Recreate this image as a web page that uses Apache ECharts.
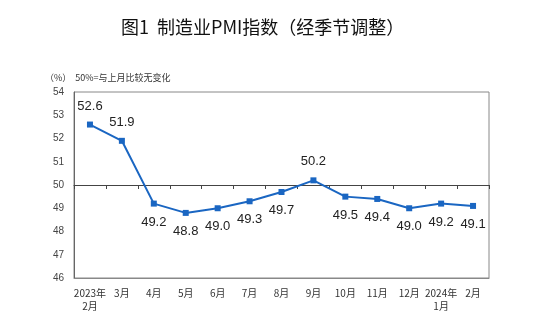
<!DOCTYPE html>
<html>
<head>
<meta charset="utf-8">
<script src="https://cdn.jsdelivr.net/npm/echarts@6/dist/echarts.min.js"></script>
<style>
html, body { margin: 0; padding: 0; background: #fff; }
#chart { width: 552px; height: 332px; }
</style>
</head>
<body>
<div id="chart"></div>
<script>
var months = ['2023年\n2月', '3月', '4月', '5月', '6月', '7月', '8月', '9月', '10月', '11月', '12月', '2024年\n1月', '2月'];
var pmi = [52.6, 51.9, 49.2, 48.8, 49.0, 49.3, 49.7, 50.2, 49.5, 49.4, 49.0, 49.2, 49.1];
var labelPos = ['top', 'top', 'bottom', 'bottom', 'bottom', 'bottom', 'bottom', 'top', 'bottom', 'bottom', 'bottom', 'bottom', 'bottom'];
var yTicks = [46, 47, 48, 49, 50, 51, 52, 53, 54];

function drawChart(){
	var dom = document.getElementById('chart');
	var myChart = echarts.init(dom, null, { renderer: 'canvas' });

	var points = pmi.map(function(v, i){
		return { value: v, label: { position: labelPos[i] } };
	});

	var option = {
		backgroundColor: '#fff',
		animation: false,
		title: [
			{
				text: '图1  制造业PMI指数（经季节调整）',
				left: 116,
				top: 13,
				textStyle: { fontFamily: 'Noto Sans CJK SC', fontSize: 18, fontWeight: 'normal', color: '#111' }
			},
			{
				text: '（%）  50%=与上月比较无变化',
				left: 40,
				top: 68,
				textStyle: { fontFamily: 'Noto Sans CJK SC', fontSize: 9, fontWeight: 'normal', color: '#333' }
			}
		],
		grid: { left: 74, top: 92, right: 63, bottom: 54, show: true, borderColor: '#888', borderWidth: 1 },
		xAxis: [
			{
				type: 'category',
				data: months,
				position: 'bottom',
				axisLine: { lineStyle: { color: '#888' } },
				axisTick: { show: false },
				axisLabel: { interval: 0, color: '#333', fontSize: 10, fontFamily: 'Noto Sans CJK SC', margin: 9, lineHeight: 13 }
			},
			{
				type: 'category',
				data: months,
				position: 'bottom',
				offset: -93,
				axisLine: { lineStyle: { color: '#444', width: 1 } },
				axisTick: { show: true, interval: 0, inside: false, length: 4, lineStyle: { color: '#444', width: 1 } },
				axisLabel: { show: false, interval: 0 }
			}
		],
		yAxis: {
			type: 'value',
			min: yTicks[0],
			max: yTicks[yTicks.length - 1],
			interval: 1,
			axisLine: { show: true, lineStyle: { color: '#666' } },
			axisTick: { show: false },
			splitLine: { show: false },
			axisLabel: { color: '#444', fontSize: 10, fontFamily: 'Liberation Sans', margin: 10 }
		},
		series: [
			{
				type: 'line',
				data: points,
				color: '#1a66c2',
				symbol: 'rect',
				symbolSize: 6,
				lineStyle: { width: 2, color: '#1a66c2' },
				label: {
					show: true,
					distance: 9,
					fontSize: 13,
					fontFamily: 'Liberation Sans',
					color: '#222',
					formatter: function(p){ return p.value.toFixed(1); }
				}
			}
		]
	};

	myChart.setOption(option);
}
drawChart()
</script>
</body>
</html>
